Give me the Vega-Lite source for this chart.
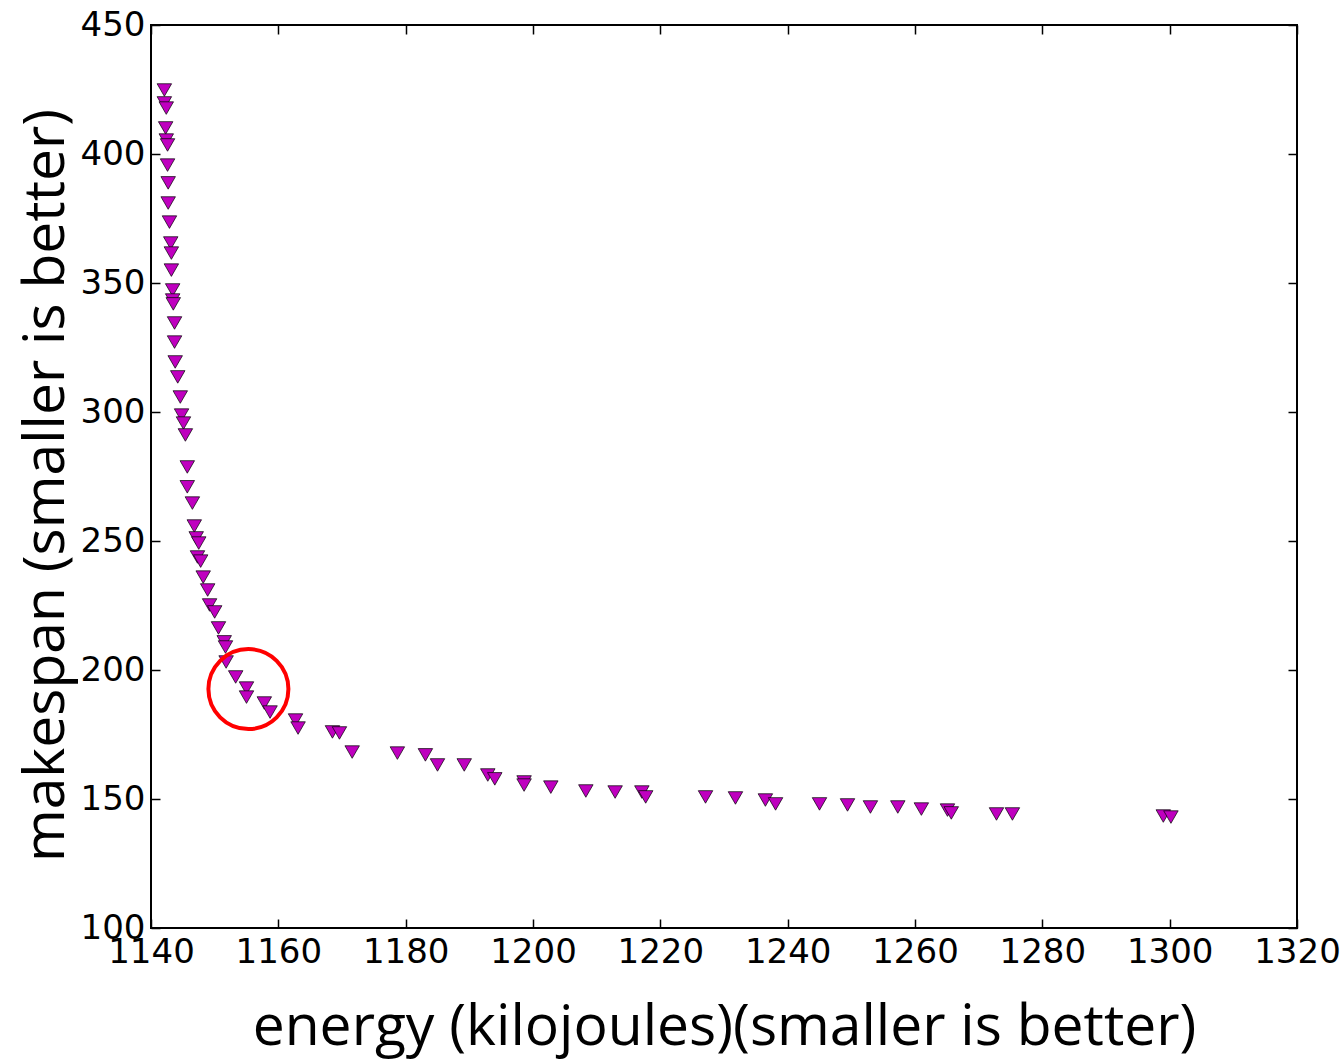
{
  "$schema": "https://vega.github.io/schema/vega-lite/v6.json",
  "width": 1146,
  "height": 903,
  "autosize": {"type": "none"},
  "padding": {"left": 151, "top": 25, "right": 44, "bottom": 133},
  "background": "white",
  "config": {
    "view": {"stroke": "black", "strokeWidth": 2},
    "axis": {"grid": false, "domain": false, "labelFont": "DejaVu Sans", "labelFontSize": 34, "labelColor": "black", "tickColor": "black", "tickWidth": 1.5, "tickSize": -9, "titleFont": "Open Sans", "titleFontSize": 57, "titleFontWeight": "normal", "titleColor": "black"}
  },
  "resolve": {"axis": {"x": "independent", "y": "independent"}},
  "layer": [
    {
      "data": {"values": [
        {"energy": 1142.1, "makespan": 424.8},
        {"energy": 1142.1, "makespan": 419.8},
        {"energy": 1142.4, "makespan": 417.8},
        {"energy": 1142.3, "makespan": 410.1},
        {"energy": 1142.4, "makespan": 405.4},
        {"energy": 1142.6, "makespan": 403.5},
        {"energy": 1142.6, "makespan": 395.7},
        {"energy": 1142.7, "makespan": 388.8},
        {"energy": 1142.7, "makespan": 381.0},
        {"energy": 1142.9, "makespan": 373.6},
        {"energy": 1143.1, "makespan": 365.5},
        {"energy": 1143.2, "makespan": 361.6},
        {"energy": 1143.2, "makespan": 355.0},
        {"energy": 1143.4, "makespan": 347.3},
        {"energy": 1143.4, "makespan": 343.4},
        {"energy": 1143.5, "makespan": 341.9},
        {"energy": 1143.7, "makespan": 334.5},
        {"energy": 1143.7, "makespan": 327.1},
        {"energy": 1143.8, "makespan": 319.4},
        {"energy": 1144.2, "makespan": 313.6},
        {"energy": 1144.6, "makespan": 305.8},
        {"energy": 1144.8, "makespan": 298.8},
        {"energy": 1145.1, "makespan": 295.7},
        {"energy": 1145.4, "makespan": 291.1},
        {"energy": 1145.7, "makespan": 278.7},
        {"energy": 1145.7, "makespan": 271.0},
        {"energy": 1146.5, "makespan": 264.7},
        {"energy": 1146.8, "makespan": 255.8},
        {"energy": 1147.1, "makespan": 251.2},
        {"energy": 1147.5, "makespan": 249.2},
        {"energy": 1147.3, "makespan": 243.8},
        {"energy": 1147.8, "makespan": 242.2},
        {"energy": 1148.2, "makespan": 236.0},
        {"energy": 1148.9, "makespan": 231.0},
        {"energy": 1149.2, "makespan": 225.2},
        {"energy": 1150.0, "makespan": 222.5},
        {"energy": 1150.6, "makespan": 216.3},
        {"energy": 1151.5, "makespan": 210.9},
        {"energy": 1151.7, "makespan": 208.9},
        {"energy": 1151.8, "makespan": 203.1},
        {"energy": 1153.3, "makespan": 197.3},
        {"energy": 1155.0, "makespan": 193.0},
        {"energy": 1155.0, "makespan": 189.5},
        {"energy": 1157.8, "makespan": 187.2},
        {"energy": 1158.7, "makespan": 183.7},
        {"energy": 1162.7, "makespan": 180.6},
        {"energy": 1163.1, "makespan": 177.5},
        {"energy": 1168.5, "makespan": 176.0},
        {"energy": 1169.6, "makespan": 175.6},
        {"energy": 1171.6, "makespan": 168.2},
        {"energy": 1178.7, "makespan": 167.8},
        {"energy": 1183.1, "makespan": 167.1},
        {"energy": 1185.0, "makespan": 163.2},
        {"energy": 1189.2, "makespan": 163.2},
        {"energy": 1192.9, "makespan": 159.3},
        {"energy": 1194.0, "makespan": 157.8},
        {"energy": 1198.6, "makespan": 156.6},
        {"energy": 1198.6, "makespan": 155.4},
        {"energy": 1202.8, "makespan": 154.6},
        {"energy": 1208.3, "makespan": 153.1},
        {"energy": 1212.9, "makespan": 152.7},
        {"energy": 1217.1, "makespan": 152.7},
        {"energy": 1217.7, "makespan": 150.8},
        {"energy": 1227.1, "makespan": 150.8},
        {"energy": 1231.8, "makespan": 150.4},
        {"energy": 1236.5, "makespan": 149.6},
        {"energy": 1238.1, "makespan": 148.1},
        {"energy": 1245.0, "makespan": 148.1},
        {"energy": 1249.4, "makespan": 147.7},
        {"energy": 1253.0, "makespan": 146.9},
        {"energy": 1257.3, "makespan": 146.9},
        {"energy": 1261.0, "makespan": 146.1},
        {"energy": 1265.1, "makespan": 145.7},
        {"energy": 1265.7, "makespan": 144.6},
        {"energy": 1272.8, "makespan": 144.2},
        {"energy": 1275.3, "makespan": 144.2},
        {"energy": 1299.0, "makespan": 143.4},
        {"energy": 1300.2, "makespan": 143.0}
      ]},
      "mark": {"type": "point", "shape": "triangle-down", "filled": true, "fill": "#bf00bf", "stroke": "black", "strokeWidth": 0.7, "opacity": 1, "size": 210},
      "encoding": {
        "x": {"field": "energy", "type": "quantitative", "scale": {"domain": [1140, 1320], "nice": false, "zero": false},
          "axis": {"values": [1140, 1160, 1180, 1200, 1220, 1240, 1260, 1280, 1300, 1320], "format": "d", "title": "energy (kilojoules)(smaller is better)", "labelPadding": 16, "titlePadding": 30, "labelFlush": false}},
        "y": {"field": "makespan", "type": "quantitative", "scale": {"domain": [100, 450], "nice": false, "zero": false},
          "axis": {"values": [100, 150, 200, 250, 300, 350, 400, 450], "format": "d", "title": "makespan (smaller is better)", "labelPadding": 15, "titlePadding": 5, "titleY": 460, "labelFlush": false}}
      }
    },
    {
      "data": {"values": [{"energy": 1155.3, "makespan": 192.6}]},
      "mark": {"type": "point", "shape": "circle", "filled": false, "stroke": "red", "strokeWidth": 4, "opacity": 1, "size": 6400},
      "encoding": {
        "x": {"field": "energy", "type": "quantitative", "axis": {"orient": "top", "values": [1140, 1160, 1180, 1200, 1220, 1240, 1260, 1280, 1300, 1320], "labels": false, "title": null}},
        "y": {"field": "makespan", "type": "quantitative", "axis": {"orient": "right", "values": [100, 150, 200, 250, 300, 350, 400, 450], "labels": false, "title": null}}
      }
    }
  ]
}
